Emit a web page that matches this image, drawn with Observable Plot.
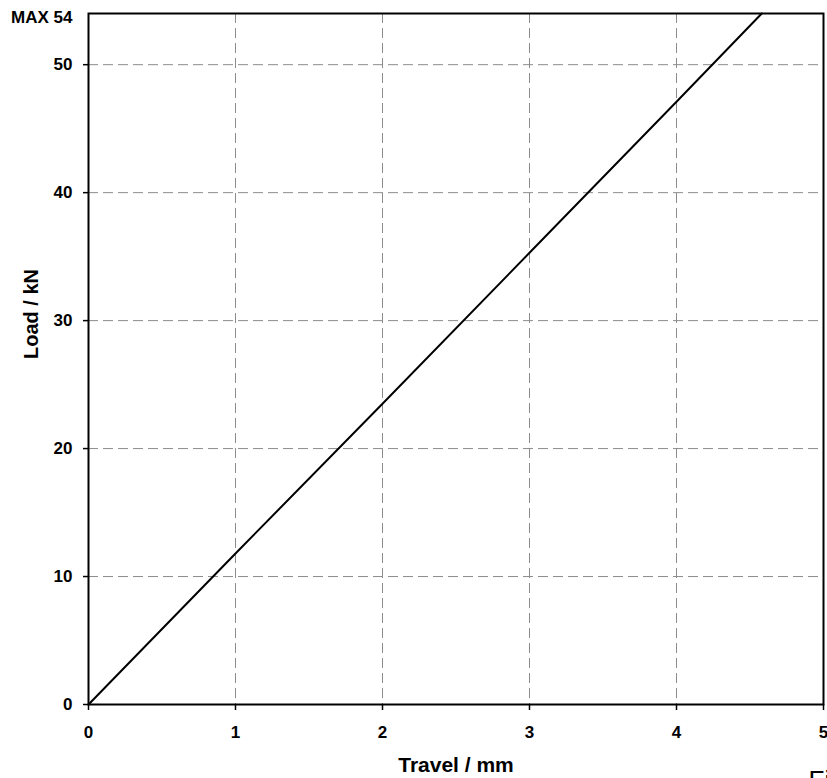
<!DOCTYPE html>
<html>
<head>
<meta charset="utf-8">
<script src="https://cdn.jsdelivr.net/npm/d3@7"></script>
<script src="https://cdn.jsdelivr.net/npm/@observablehq/plot@0.6"></script>
<style>
  html, body { margin: 0; padding: 0; background: white; overflow: hidden; }
</style>
</head>
<body>
<div id="chart"></div>
<script>
const travel = [0, 1, 2, 3, 4, 4.58];
const load = [0, 11.8, 23.5, 35.3, 47.1, 54];
const xTicks = [0, 1, 2, 3, 4, 5];
const yTicks = [0, 10, 20, 30, 40, 50];
const maxLabel = "MAX 54";
const maxValue = 54;
const xLabel = "Travel / mm";
const yLabel = "Load / kN";
const caption = "Fig";

const data = travel.map((t, i) => ({travel: t, load: load[i]}));
const font = "Liberation Sans, Arial, sans-serif";

const chart = Plot.plot({
  width: 827,
  height: 778,
  marginLeft: 88,
  marginRight: 4,
  marginTop: 13,
  marginBottom: 74,
  style: {fontFamily: font, background: "white", overflow: "hidden"},
  x: {domain: [0, 5]},
  y: {domain: [0, 54]},
  marks: [
    Plot.gridX(xTicks.slice(1, -1), {stroke: "#8c8c8c", strokeOpacity: 1, strokeDasharray: "10,5", strokeWidth: 1}),
    Plot.gridY(yTicks.slice(1), {stroke: "#8c8c8c", strokeOpacity: 1, strokeDasharray: "10,5", strokeWidth: 1}),
    Plot.axisX(xTicks, {tickSize: 6, tickPadding: 15, fontSize: 17, fontWeight: "bold", stroke: "black", strokeWidth: 1.5, label: null, fill: "black", tickFormat: d3.format("d")}),
    Plot.axisY(yTicks, {tickSize: 5, tickPadding: 11, fontSize: 17, fontWeight: "bold", stroke: "black", strokeWidth: 1.5, label: null, fill: "black", tickFormat: d3.format("d")}),
    Plot.axisY([maxValue], {tickSize: 0, tickPadding: 16, dy: 4, fontSize: 17, fontWeight: "bold", tickFormat: () => maxLabel, label: null, fill: "black"}),
    Plot.line(data, {x: "travel", y: "load", stroke: "black", strokeWidth: 2}),
    Plot.frame({stroke: "black", strokeWidth: 2}),
    Plot.text([xLabel], {frameAnchor: "bottom", dy: 61, fontSize: 21, fontWeight: "bold", fill: "black", lineAnchor: "middle"}),
    Plot.text([yLabel], {frameAnchor: "left", dx: -57, rotate: -90, fontSize: 20, fontWeight: "bold", fill: "black", lineAnchor: "middle"}),
    Plot.text([caption], {frameAnchor: "bottom-right", dx: -15, dy: 66, textAnchor: "start", lineAnchor: "top", fontSize: 26, fill: "black"})
  ]
});
document.getElementById("chart").appendChild(chart);
</script>
</body>
</html>
